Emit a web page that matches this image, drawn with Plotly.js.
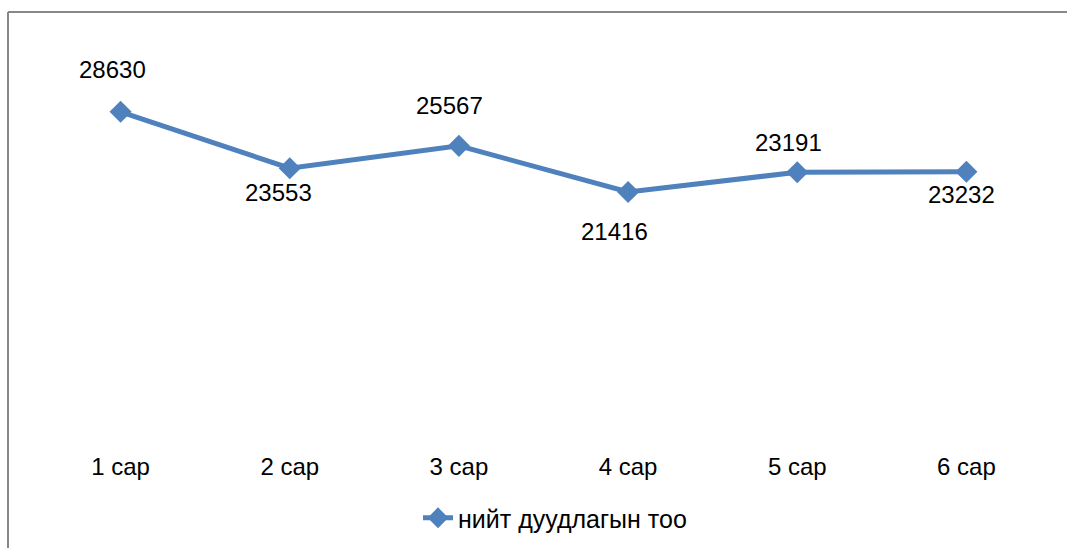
<!DOCTYPE html>
<html>
<head>
<meta charset="utf-8">
<script src="https://cdn.plot.ly/plotly-3.0.1.min.js"></script>
<style>html,body{margin:0;padding:0;background:#fff;}#chart{width:1067px;height:548px;}</style>
</head>
<body>
<div id="chart"></div>
<script>
const categories = ["1 сар", "2 сар", "3 сар", "4 сар", "5 сар", "6 сар"];
const calls = [28630, 23553, 25567, 21416, 23191, 23232];
const seriesName = "нийт дуудлагын тоо";

// label placement (style only)
const labelYShift = [42, -24, 40, -40, 30, -23];
const labelXShift = [-8, -11, -9, -14, -9, -5];

const W = 1067, H = 548;
const m = {l: 36, r: 16, t: 41, b: 118, autoexpand: false};
const pw = W - m.l - m.r, ph = H - m.t - m.b;
const px2x = p => (p - m.l) / pw;
const py2y = p => (H - m.b - p) / ph;

const font = {family: "Liberation Sans, Arial, sans-serif", size: 24, color: "#000"};
const legendFont = {family: "Liberation Sans, Arial, sans-serif", size: 25, color: "#000"};

const trace = {
  type: "scatter",
  mode: "lines+markers",
  x: categories,
  y: calls,
  name: seriesName,
  line: {color: "#4F81BD", width: 5},
  marker: {symbol: "diamond", size: 17, color: "#4F81BD"},
  showlegend: true,
  hoverinfo: "x+y"
};

const annotations = calls.map((v, i) => ({
  x: categories[i], y: v, xref: "x", yref: "y",
  text: String(v), showarrow: false,
  yshift: labelYShift[i], xshift: labelXShift[i],
  font: font
}));

const layout = {
  width: W, height: H,
  margin: m,
  paper_bgcolor: "#fff", plot_bgcolor: "#fff",
  font: font,
  xaxis: {
    type: "category", range: [-0.5, categories.length - 0.5],
    showgrid: false, zeroline: false, showline: false, automargin: false,
    ticks: "", ticklabelstandoff: 20, tickfont: font, fixedrange: true
  },
  yaxis: {range: [0, 35000], visible: false, fixedrange: true},
  showlegend: true,
  legend: {
    orientation: "h", x: px2x(555), xanchor: "center", y: py2y(518), yanchor: "middle",
    font: legendFont, bgcolor: "rgba(0,0,0,0)"
  },
  annotations: annotations,
  shapes: [
    {type: "line", xref: "paper", yref: "paper", x0: px2x(8), x1: px2x(8), y0: py2y(548), y1: py2y(12),
     line: {color: "#888", width: 2}},
    {type: "line", xref: "paper", yref: "paper", x0: px2x(8), x1: px2x(1067), y0: py2y(12), y1: py2y(12),
     line: {color: "#888", width: 2}}
  ]
};

Plotly.newPlot("chart", [trace], layout, {displayModeBar: false, staticPlot: true});
</script>
</body>
</html>
